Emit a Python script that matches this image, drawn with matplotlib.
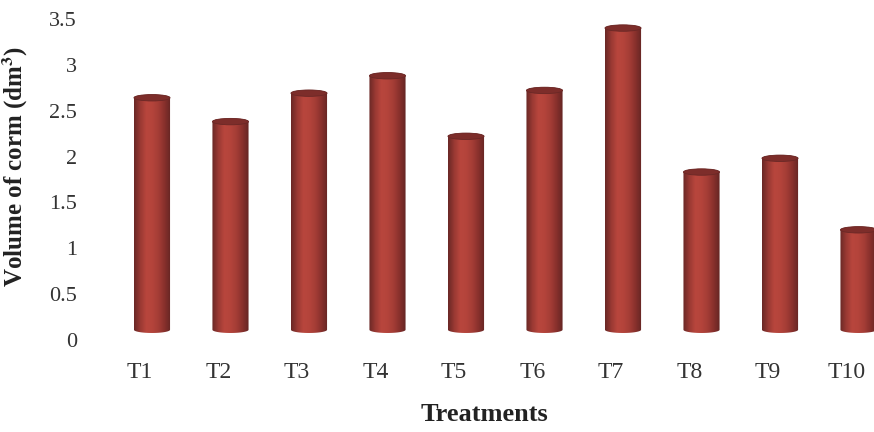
import numpy as np
import matplotlib
matplotlib.use('Agg')
import matplotlib.pyplot as plt
from matplotlib.colors import LinearSegmentedColormap
from matplotlib.patches import PathPatch, Ellipse
from matplotlib.path import Path
from matplotlib.transforms import offset_copy

# corm volume per treatment (dm3)
treatments = ['T1', 'T2', 'T3', 'T4', 'T5', 'T6', 'T7', 'T8', 'T9', 'T10']
volume = [2.60, 2.34, 2.65, 2.84, 2.18, 2.68, 3.36, 1.79, 1.94, 1.16]
yticks = [0, 0.5, 1, 1.5, 2, 2.5, 3, 3.5]
ytick_labels = ['0', '0.5', '1', '1.5', '2', '2.5', '3', '3.5']

plt.rcParams['font.family'] = ['Liberation Serif', 'DejaVu Serif']
plt.rcParams['mathtext.fontset'] = 'stix'

fig = plt.figure(figsize=(8.74, 4.32), dpi=100)
ax = fig.add_axes([0.1087, 0.213, 0.8913, 0.743])
ax.set_xlim(-0.573, 9.35)
ax.set_ylim(0, 3.5)

# cylinders sit a little back and up (3D depth look)
depth = offset_copy(ax.transData, fig=fig, x=12, y=7, units='dots')

shade = LinearSegmentedColormap.from_list(
    'cyl', ['#6a2826', '#9a3933', '#b8463d', '#b4443b', '#a43d36', '#88302c', '#652624'])
grad = np.linspace(0, 1, 64).reshape(1, -1)

w = 0.46
eh = 0.07  # ellipse height of cylinder ends, data units
for i, v in enumerate(volume):
    x0, x1 = i - w / 2, i + w / 2
    yb, yt = eh / 2, v - eh / 2
    t = np.linspace(np.pi, 2 * np.pi, 30)
    bot = np.column_stack([i + w / 2 * np.cos(t), yb + eh / 2 * np.sin(t)])
    t2 = np.linspace(0, np.pi, 30)
    top = np.column_stack([i + w / 2 * np.cos(t2), yt + eh / 2 * np.sin(t2)])
    verts = np.vstack([bot, top, bot[:1]])
    outline = PathPatch(Path(verts), facecolor='none', edgecolor='none', transform=depth)
    ax.add_patch(outline)
    im = ax.imshow(grad, cmap=shade, extent=[x0, x1, 0, v], aspect='auto',
                   transform=depth, interpolation='bilinear', zorder=2)
    im.set_clip_path(outline)
    ax.add_patch(Ellipse((i, yt), w, eh, facecolor='#7d2d2a', edgecolor='#6a2826',
                         lw=0.6, transform=depth, zorder=3))

ax.set_xticks(range(len(treatments)))
ax.set_xticklabels(treatments, fontsize=17, color='#333333')
ax.set_yticks(yticks)
ax.set_yticklabels(ytick_labels, fontsize=16, color='#333333')
ax.tick_params(axis='both', length=0)
ax.tick_params(axis='x', pad=16)
ax.tick_params(axis='y', pad=13)
for s in ax.spines.values():
    s.set_visible(False)

ax.set_xlabel('Treatments', fontsize=19, fontweight='bold', color='#222222', labelpad=14)
ax.set_ylabel(r'Volume of corm (dm$^{\mathbf{3}}$)', fontsize=18, fontweight='bold',
              color='#222222')
ax.yaxis.set_label_coords(-0.083, 0.54)

plt.savefig('out.png', dpi=100)
